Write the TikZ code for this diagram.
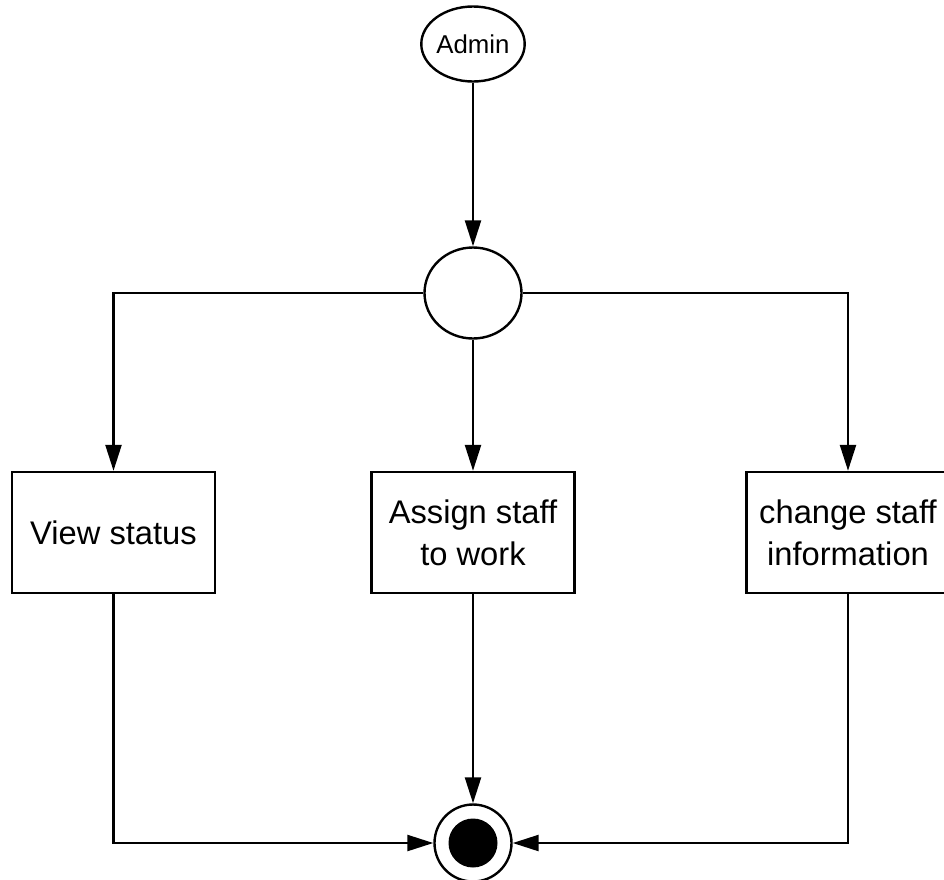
\documentclass[tikz,border=0pt]{standalone}
\usepackage{fontspec}
\setmainfont{Liberation Sans}
\usetikzlibrary{shapes.geometric,arrows.meta}
\begin{document}
\begin{tikzpicture}[x=1pt,y=-1pt,
  line width=2.4pt,
  startnode/.style={draw,ellipse,inner sep=0pt,minimum width=96pt,minimum height=75pt,
    font=\fontsize{25.8}{30}\selectfont},
  forknode/.style={draw,ellipse,inner sep=0pt,minimum width=97pt,minimum height=91pt},
  actbox/.style={draw,rectangle,inner sep=0pt,minimum width=203pt,minimum height=121pt,
    align=center,font=\fontsize{32.7}{42}\selectfont},
  endnode/.style={draw,circle,inner sep=0pt,minimum size=77pt},
  flow/.style={-{Triangle[length=26pt,width=16pt]}}]
\clip (0,0) rectangle (944,879);
\fill[white] (0,0) rectangle (944,879);

% nodes
\node[startnode] (admin) at (473,44) {Admin};
\node[forknode] (fork) at (473,293) {};
\node[actbox] (view) at (113.5,532.5) {View status};
\node[actbox] (assign) at (473,532.5) {Assign staff\\to work};
\node[actbox] (change) at (848,532.5) {change staff\\information};
\node[endnode] (end) at (473,843) {};
\fill (end.center) circle (24.5pt);

% connectors
\draw[flow] (admin) -- (fork);
\draw[flow] (fork.west) -| (view.north);
\draw[flow] (fork) -- (assign);
\draw[flow] (fork.east) -| (change.north);
\draw[flow] (view.south) |- (end.west);
\draw[flow] (assign) -- (end);
\draw[flow] (change.south) |- (end.east);
\end{tikzpicture}
\end{document}
